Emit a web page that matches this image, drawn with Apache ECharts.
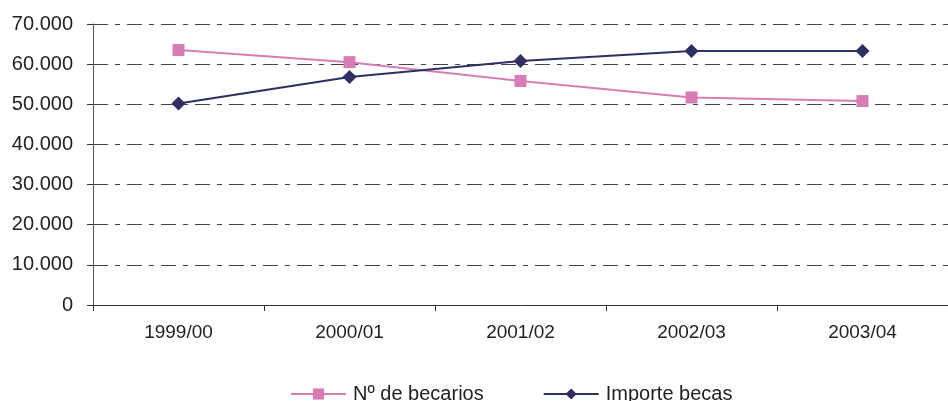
<!DOCTYPE html>
<html>
<head>
<meta charset="utf-8">
<script src="https://cdn.jsdelivr.net/npm/echarts@6/dist/echarts.min.js"></script>
<style>
html, body { margin: 0; padding: 0; background: #fff; }
#chart { width: 948px; height: 401px; }
</style>
</head>
<body>
<div id="chart"></div>
<script>
var myChart = echarts.init(document.getElementById('chart'));

// categorias y valores
var cursos = ['1999/00', '2000/01', '2001/02', '2002/03', '2003/04'];
var becarios = [63500, 60500, 55800, 51700, 50800];
var importe = [50200, 56800, 60800, 63300, 63300];

var gridDash = [15, 7, 5, 7];

option = {
    animation: false,
    textStyle: { fontFamily: 'Liberation Sans, Arial, sans-serif' },
    grid: { left: 93, right: 0, top: 24, bottom: 96 },
    legend: {
        top: 384,
        left: 290,
        itemGap: 59,
        itemWidth: 55,
        itemHeight: 14,
        padding: 0,
        textStyle: { fontSize: 20, color: '#222', padding: [0, 0, 0, 2] },
        data: ['Nº de becarios', 'Importe becas']
    },
    xAxis: {
        type: 'category',
        data: cursos,
        boundaryGap: true,
        axisLine: { lineStyle: { color: '#333', width: 1 } },
        axisTick: { show: true, length: 6, lineStyle: { color: '#333' } },
        axisLabel: { fontSize: 19, color: '#222', margin: 18 }
    },
    yAxis: {
        type: 'value',
        min: 0,
        max: 70000,
        interval: 10000,
        axisLine: { show: true, lineStyle: { color: '#555', width: 1 } },
        axisTick: { show: true, inside: false, length: 6, lineStyle: { color: '#333' } },
        axisLabel: {
            fontSize: 20,
            color: '#222',
            margin: 20,
            padding: [0, 0, 8, 0],
            formatter: function (v) {
                return v === 0 ? '0' : (v / 1000) + '.000';
            }
        },
        splitLine: { show: true, lineStyle: { color: '#444', type: gridDash, width: 1 } }
    },
    series: [
        {
            name: 'Nº de becarios',
            type: 'line',
            data: becarios,
            symbol: 'rect',
            symbolSize: 12,
            itemStyle: { color: '#d87cb6' },
            lineStyle: { color: '#d87cb6', width: 2 }
        },
        {
            name: 'Importe becas',
            type: 'line',
            data: importe,
            symbol: 'diamond',
            symbolSize: 14,
            itemStyle: { color: '#2e2f62' },
            lineStyle: { color: '#2e2f62', width: 2 }
        }
    ]
};

myChart.setOption(option);
</script>
</body>
</html>
